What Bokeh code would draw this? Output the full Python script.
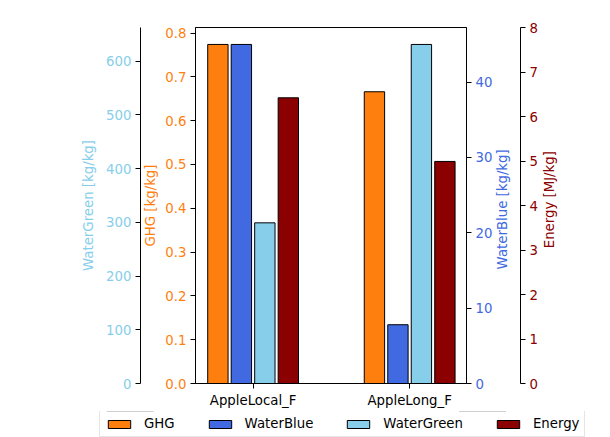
from bokeh.plotting import figure
from bokeh.layouts import column
from bokeh.models import (Range1d, LinearAxis, FixedTicker, PrintfTickFormatter,
                          Legend, LegendItem, ColumnDataSource)
from bokeh.transform import dodge
from bokeh.embed import file_html
from bokeh.resources import INLINE
import math

# ---- data ----
categories = ["AppleLocal_F", "AppleLong_F"]
ghg = [0.774, 0.666]            # kg/kg
water_blue = [45.0, 7.8]        # kg/kg
water_green = [299.0, 631.0]    # kg/kg
energy = [6.42, 4.99]           # MJ/kg

series_names = ["GHG", "WaterBlue", "WaterGreen", "Energy"]
colors = ["#ff7f0e", "#4169e1", "#87ceeb", "#8b0000"]

ghg_ticks = [0.0, 0.1, 0.2, 0.3, 0.4, 0.5, 0.6, 0.7, 0.8]
green_ticks = [0, 100, 200, 300, 400, 500, 600]
blue_ticks = [0, 10, 20, 30, 40]
energy_ticks = [0, 1, 2, 3, 4, 5, 6, 7, 8]
energy_max = 8

FONT = "DejaVu Sans"
FS = "13.3px"
NBSP = "\u00a0"

xs = list(range(len(categories)))
source = ColumnDataSource(dict(x=xs, GHG=ghg, WaterBlue=water_blue,
                               WaterGreen=water_green, Energy=energy))

p = figure(width=610, height=411, output_backend="svg", toolbar_location=None,
           x_range=Range1d(-0.368, 1.363),
           y_range=Range1d(0, max(ghg) * 1.05),
           min_border_top=27, min_border_left=195, min_border_right=144,
           min_border_bottom=28)
p.frame_align = False
p.extra_y_ranges = {
    "green": Range1d(0, max(water_green) * 1.05),
    "blue": Range1d(0, max(water_blue) * 1.05),
    "energy": Range1d(0, energy_max),
}
p.xgrid.visible = False
p.ygrid.visible = False
p.outline_line_color = "black"
p.outline_line_width = 1
p.background_fill_color = "white"
p.border_fill_color = "white"


def style_axis(ax, color, label_color=None):
    ax.axis_line_color = "black"
    ax.major_tick_line_color = "black"
    ax.minor_tick_line_color = None
    ax.major_tick_in = 0
    ax.major_tick_out = 5
    ax.major_label_standoff = 4
    ax.major_label_text_color = color
    ax.major_label_text_font = FONT
    ax.major_label_text_font_size = FS
    ax.axis_label_text_color = label_color or color
    ax.axis_label_text_font = FONT
    ax.axis_label_text_font_size = FS
    ax.axis_label_text_font_style = "normal"


# x axis
xa = p.xaxis[0]
style_axis(xa, "black")
xa.ticker = FixedTicker(ticks=xs)
xa.major_label_overrides = {i: c for i, c in zip(xs, categories)}

# GHG (main left)
ya = p.yaxis[0]
style_axis(ya, colors[0])
ya.ticker = FixedTicker(ticks=ghg_ticks)
ya.formatter = PrintfTickFormatter(format="%.1f")
ya.axis_label = "GHG [kg/kg]"
ya.axis_label_standoff = 4

# WaterGreen (outer left)
ga = LinearAxis(y_range_name="green", axis_label="WaterGreen [kg/kg]")
style_axis(ga, colors[2])
ga.ticker = FixedTicker(ticks=green_ticks)
ga.axis_label_standoff = 7
p.add_layout(ga, "left")

# WaterBlue (inner right), title reads bottom-to-top
ba = LinearAxis(y_range_name="blue", axis_label=NBSP * 27 + "WaterBlue [kg/kg]")
style_axis(ba, colors[1])
ba.ticker = FixedTicker(ticks=blue_ticks)
ba.axis_label_standoff = 7
ba.axis_label_orientation = math.pi / 2
ba.axis_label_align = "start"
p.add_layout(ba, "right")

# Energy (outer right)
ea = LinearAxis(y_range_name="energy", axis_label=NBSP * 32 + "Energy [MJ/kg]")
style_axis(ea, colors[3])
ea.ticker = FixedTicker(ticks=energy_ticks)
ea.axis_label_standoff = 9
ea.axis_label_orientation = math.pi / 2
ea.axis_label_align = "start"
p.add_layout(ea, "right")

# bars
offsets = [-0.225, -0.075, 0.075, 0.225]
range_names = ["default", "blue", "green", "energy"]
for name, col, off, rn in zip(series_names, colors, offsets, range_names):
    p.vbar(x=dodge("x", off, range=p.x_range), top=name, width=0.13, bottom=0,
           source=source, fill_color=col, line_color="black", line_width=1,
           y_range_name=rn)

# legend strip (separate figure below the chart; its bars lie outside its view)
lf = figure(width=610, height=26, output_backend="svg", toolbar_location=None,
            x_axis_type=None, y_axis_type=None,
            x_range=Range1d(-0.368, 1.363), y_range=Range1d(-2, -1),
            min_border=0, min_border_left=0, min_border_right=0,
            min_border_top=0, min_border_bottom=0)
lf.frame_align = False
lf.outline_line_color = None
lf.grid.visible = False
lf.background_fill_color = "white"
lf.border_fill_color = "white"
items = []
for name, col in zip(series_names, colors):
    r = lf.vbar(x="x", top=name, bottom=0, width=0.13, source=source,
                fill_color=col, line_color="black", line_width=1)
    items.append(LegendItem(label=name, renderers=[r]))

legend = Legend(items=items, orientation="horizontal", location=(99, 0))
legend.label_text_font = FONT
legend.label_text_font_size = FS
legend.label_text_color = "black"
legend.glyph_width = 28
legend.glyph_height = 10
legend.label_standoff = 11
legend.spacing = 31
legend.padding = 5
legend.margin = 0
legend.label_height = 15
legend.border_line_color = "#cccccc"
legend.border_line_width = 1
legend.background_fill_alpha = 0.8
lf.add_layout(legend, "center")

layout = column(p, lf, spacing=0)
open("out.html", "w").write(file_html(layout, INLINE))
